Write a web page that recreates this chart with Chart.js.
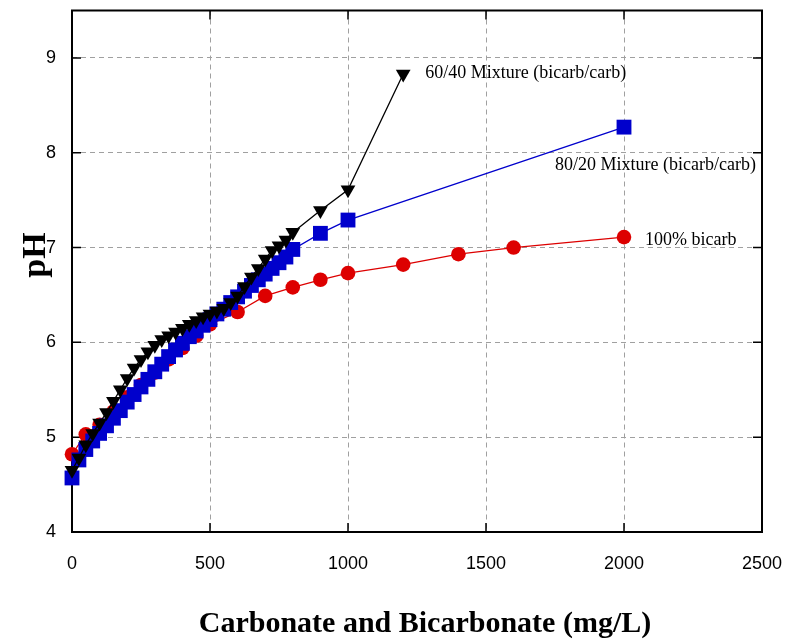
<!DOCTYPE html>
<html>
<head>
<meta charset="utf-8">
<script src="https://cdn.jsdelivr.net/npm/chart.js@4.4.0/dist/chart.umd.min.js"></script>
<style>body{margin:0;background:#fff}</style>
</head>
<body>
<canvas id="chart" width="788" height="644"></canvas>
<script>
// 60/40 Mixture (bicarb/carb)
const mixAx=[0,25,50,75,100,125,150,175,200,225,250,275,300,325,350,375,400,425,450,475,500,525,550,575,600,625,650,675,700,725,750,775,800,900,1000,1200];
const mixAy=[4.65,4.78,4.92,5.04,5.15,5.26,5.38,5.50,5.62,5.73,5.82,5.90,5.97,6.03,6.07,6.11,6.15,6.19,6.23,6.27,6.30,6.33,6.36,6.42,6.49,6.59,6.69,6.78,6.88,6.97,7.02,7.08,7.16,7.39,7.61,8.83];
// 80/20 Mixture (bicarb/carb)
const mixBx=[0,25,50,75,100,125,150,175,200,225,250,275,300,325,350,375,400,425,450,475,500,525,550,575,600,625,650,675,700,725,750,775,800,900,1000,2000];
const mixBy=[4.57,4.76,4.87,4.96,5.04,5.12,5.20,5.28,5.37,5.45,5.53,5.61,5.69,5.77,5.85,5.92,5.99,6.06,6.12,6.18,6.24,6.30,6.35,6.42,6.48,6.54,6.60,6.66,6.72,6.78,6.84,6.90,6.98,7.15,7.29,8.27];
// 100% bicarb
const bicX=[0,50,100,150,200,250,300,350,400,450,500,600,700,800,900,1000,1200,1400,1600,2000];
const bicY=[4.82,5.03,5.13,5.27,5.42,5.55,5.68,5.82,5.94,6.07,6.19,6.32,6.49,6.58,6.66,6.73,6.82,6.93,7.00,7.11];

const seriesNames=["60/40 Mixture (bicarb/carb)","80/20 Mixture (bicarb/carb)","100% bicarb"];
const xTicks=[0,500,1000,1500,2000,2500];
const yTicks=[4,5,6,7,8,9];
const xTitle="Carbonate and Bicarbonate (mg/L)";
const yTitle="pH";

function pts(xs,ys){return xs.map((x,i)=>({x:x,y:ys[i]}));}
function noPad(s){s.paddingTop=0;s.paddingBottom=0;s.paddingLeft=0;s.paddingRight=0;}

const frame={
  id:"frame",
  beforeDatasetsDraw(chart){
    const {ctx,chartArea:a,scales}=chart;
    ctx.save();
    ctx.strokeStyle="#000";
    ctx.lineWidth=1.5;
    ctx.beginPath();
    xTicks.forEach(v=>{
      const px=scales.x.getPixelForValue(v);
      ctx.moveTo(px,a.bottom);ctx.lineTo(px,a.bottom-9);
      ctx.moveTo(px,a.top);ctx.lineTo(px,a.top+9);
    });
    yTicks.forEach(v=>{
      const py=scales.y.getPixelForValue(v);
      ctx.moveTo(a.left,py);ctx.lineTo(a.left+9,py);
      ctx.moveTo(a.right,py);ctx.lineTo(a.right-9,py);
    });
    ctx.stroke();
    ctx.lineWidth=2;
    ctx.strokeRect(a.left,a.top,a.right-a.left,a.bottom-a.top);
    ctx.restore();
  },
  afterDatasetsDraw(chart){
    const {ctx,scales}=chart;
    ctx.save();
    ctx.fillStyle="#000";
    ctx.font="18px 'Liberation Serif'";
    ctx.textBaseline="middle";
    const endA=mixAx.length-1, endB=mixBx.length-1, endC=bicX.length-1;
    ctx.fillText(seriesNames[0],scales.x.getPixelForValue(mixAx[endA])+22,scales.y.getPixelForValue(mixAy[endA])-1);
    ctx.fillText(seriesNames[1],scales.x.getPixelForValue(mixBx[endB])-69,scales.y.getPixelForValue(mixBy[endB])+38);
    ctx.fillText(seriesNames[2],scales.x.getPixelForValue(bicX[endC])+21,scales.y.getPixelForValue(bicY[endC])+3);
    // axis titles
    ctx.textAlign="center";
    ctx.font="bold 30px 'Liberation Serif'";
    ctx.fillText(xTitle,425,624);
    ctx.translate(36,255);
    ctx.rotate(-Math.PI/2);
    ctx.font="bold 34px 'Liberation Serif'";
    ctx.fillText(yTitle,0,0);
    ctx.restore();
  }
};

const ctx=document.getElementById("chart").getContext("2d");
const chart=new Chart(ctx,{
  type:"scatter",
  data:{
    datasets:[
      {label:seriesNames[0],data:pts(mixAx,mixAy),showLine:true,borderColor:"#000",backgroundColor:"#000",borderWidth:1.3,
       pointStyle:"triangle",rotation:180,pointRadius:8.5,pointBorderWidth:0,clip:false},
      {label:seriesNames[1],data:pts(mixBx,mixBy),showLine:true,borderColor:"#0000cc",backgroundColor:"#0000cc",borderWidth:1.3,
       pointStyle:"rect",pointRadius:10.5,pointBorderWidth:0,clip:false},
      {label:seriesNames[2],data:pts(bicX,bicY),showLine:true,borderColor:"#dd0000",backgroundColor:"#dd0000",borderWidth:1.3,
       pointStyle:"circle",pointRadius:7.3,pointBorderWidth:0,clip:false}
    ]
  },
  options:{
    responsive:false,
    animation:false,
    layout:{padding:{top:4,right:26,left:0,bottom:0}},
    plugins:{legend:{display:false},tooltip:{enabled:false}},
    scales:{
      x:{
        type:"linear",min:0,max:2500,
        afterBuildTicks:s=>{s.ticks=xTicks.map(v=>({value:v}));},
        afterFit:s=>{s.height=112;noPad(s);},
        ticks:{padding:21,color:"#000",font:{family:"'Liberation Sans'",size:18},callback:v=>String(v)},
        grid:{drawTicks:false,color:c=>(c.tick&&(c.tick.value===0||c.tick.value===2500))?"rgba(0,0,0,0)":"#a0a0a0",lineWidth:1},
        border:{display:false,dash:[5,4]}
      },
      y:{
        min:4,max:9.5,
        afterBuildTicks:s=>{s.ticks=yTicks.map(v=>({value:v}));},
        afterFit:s=>{s.width=72;noPad(s);},
        ticks:{padding:16,color:"#000",font:{family:"'Liberation Sans'",size:18},callback:v=>String(v)},
        grid:{drawTicks:false,color:c=>(c.tick&&c.tick.value===4)?"rgba(0,0,0,0)":"#a0a0a0",lineWidth:1},
        border:{display:false,dash:[5,4]}
      }
    }
  },
  plugins:[frame]
});
</script>
</body>
</html>
